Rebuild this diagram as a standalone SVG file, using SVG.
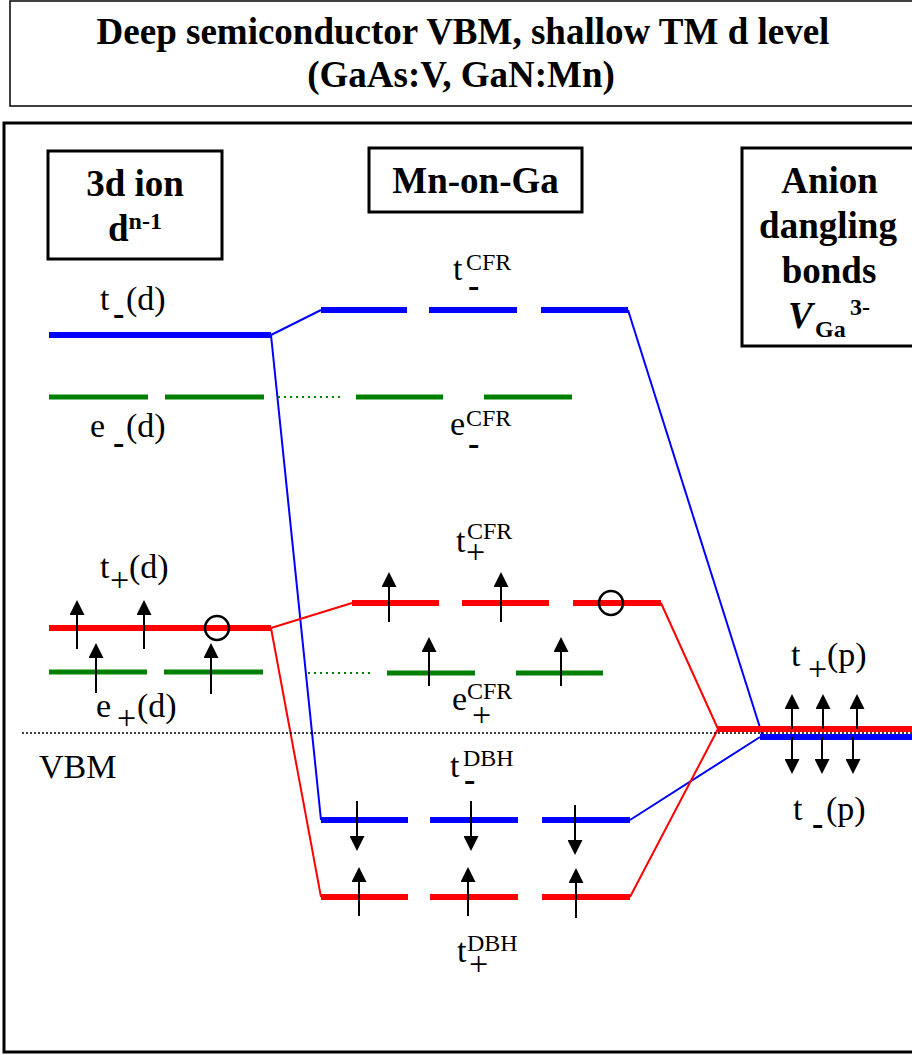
<svg xmlns="http://www.w3.org/2000/svg" width="912" height="1055" viewBox="0 0 912 1055">
<style>
text{font-family:'Liberation Serif','Tinos','Times New Roman','DejaVu Serif','Noto Serif',serif}
.bt{font-weight:bold;font-size:37px;fill:#000}
.lb{font-size:34px;fill:#000}
.sp{font-size:24px}
.dash{font-weight:bold}
.box{fill:none;stroke:#000;stroke-width:3}
.lvB{stroke:#0000FF;stroke-width:6;fill:none}
.lvR{stroke:#FF0000;stroke-width:6;fill:none}
.lvG{stroke:#008000;stroke-width:5;fill:none}
.cB{stroke:#0000FF;stroke-width:2;fill:none}
.cR{stroke:#FF0000;stroke-width:2;fill:none}
.gd{stroke:#008000;stroke-width:2;stroke-dasharray:2 4;fill:none}
.spin{stroke:#000;stroke-width:2;marker-end:url(#ah)}
.hole{fill:none;stroke:#000;stroke-width:2.5}
</style>
<defs>
<marker id="ah" viewBox="0 0 15 15" refX="11" refY="7.5" markerWidth="15" markerHeight="15" markerUnits="userSpaceOnUse" orient="auto">
<path d="M0,0 L15,7.5 L0,15 z" fill="#000"/>
</marker>
</defs>
<rect width="912" height="1055" fill="#fff"/>

<g id="title">
<rect x="10" y="1" width="910" height="105" fill="none" stroke="#000" stroke-width="1.5"/>
<text class="bt" font-family="Liberation Serif, serif" x="463" y="44" text-anchor="middle">Deep semiconductor VBM, shallow TM d level</text>
<text class="bt" font-family="Liberation Serif, serif" x="461" y="87" text-anchor="middle">(GaAs:V, GaN:Mn)</text>
</g>

<g id="frame">
<rect x="4" y="123" width="920" height="929" fill="none" stroke="#000" stroke-width="3"/>
</g>

<g id="hdr-3d-ion">
<rect class="box" x="48" y="151" width="174" height="108"/>
<text class="bt" x="135" y="196" text-anchor="middle">3d ion</text>
<text class="bt" x="108" y="241">d<tspan class="sp" y="229">n-1</tspan></text>
</g>

<g id="hdr-mn-on-ga">
<rect class="box" x="369" y="148" width="213" height="64"/>
<text class="bt" x="475.5" y="193" text-anchor="middle">Mn-on-Ga</text>
</g>

<g id="hdr-anion">
<rect class="box" x="742" y="148" width="200" height="198"/>
<text class="bt" x="829.5" y="193" text-anchor="middle">Anion</text>
<text class="bt" x="828" y="238" text-anchor="middle">dangling</text>
<text class="bt" x="829" y="283" text-anchor="middle">bonds</text>
<text class="bt" x="788" y="328"><tspan font-style="italic">V</tspan><tspan class="sp" x="815" y="337">Ga</tspan><tspan class="sp" x="850" y="315">3-</tspan></text>
</g>

<g id="connectors">
<line class="cB" x1="271" y1="335" x2="321" y2="310"/>
<line class="cB" x1="271" y1="335" x2="321" y2="820"/>
<line class="cB" x1="628" y1="310" x2="762" y2="734"/>
<line class="cB" x1="630" y1="820" x2="760" y2="737"/>
<line class="cR" x1="271" y1="628" x2="352" y2="603"/>
<line class="cR" x1="271" y1="628" x2="321" y2="897"/>
<line class="cR" x1="661" y1="603" x2="718" y2="729"/>
<line class="cR" x1="630" y1="897" x2="718" y2="729"/>
<line class="gd" x1="278" y1="397" x2="340" y2="397"/>
<line class="gd" x1="308" y1="673" x2="370" y2="673"/>
</g>

<g id="ion-t-minus">
<line class="lvB" x1="49" y1="335" x2="271" y2="335"/>
<text class="lb" x="100" y="310">t<tspan class="dash" x="113" y="325">-</tspan><tspan x="126" y="310">(d)</tspan></text>
</g>

<g id="ion-e-minus">
<line class="lvG" x1="49" y1="397" x2="148" y2="397"/>
<line class="lvG" x1="165" y1="397" x2="264" y2="397"/>
<text class="lb" x="90" y="437">e<tspan class="dash" x="113" y="454">-</tspan><tspan x="126" y="437">(d)</tspan></text>
</g>

<g id="ion-t-plus">
<line class="lvR" x1="49" y1="628" x2="271" y2="628"/>
<line class="spin" x1="77" y1="649" x2="77" y2="604"/>
<line class="spin" x1="144" y1="649" x2="144" y2="604"/>
<circle class="hole" cx="217" cy="628" r="12"/>
<text class="lb" x="100" y="578">t<tspan x="110" y="591">+</tspan><tspan x="129" y="578">(d)</tspan></text>
</g>

<g id="ion-e-plus">
<line class="lvG" x1="49" y1="672" x2="147" y2="672"/>
<line class="lvG" x1="164" y1="672" x2="263" y2="672"/>
<line class="spin" x1="96" y1="693" x2="96" y2="647"/>
<line class="spin" x1="211" y1="694" x2="211" y2="647"/>
<text class="lb" x="96" y="717">e<tspan x="117" y="729">+</tspan><tspan x="137" y="717">(d)</tspan></text>
</g>

<g id="cfr-t-minus">
<line class="lvB" x1="321" y1="310" x2="407" y2="310"/>
<line class="lvB" x1="429" y1="310" x2="517" y2="310"/>
<line class="lvB" x1="541" y1="310" x2="628" y2="310"/>
<text class="lb" x="453" y="280">t<tspan class="sp" x="466" y="270">CFR</tspan><tspan class="dash" x="468" y="297">-</tspan></text>
</g>

<g id="cfr-e-minus">
<line class="lvG" x1="356" y1="397" x2="443" y2="397"/>
<line class="lvG" x1="484" y1="397" x2="572" y2="397"/>
<text class="lb" x="450" y="435">e<tspan class="sp" x="466" y="426">CFR</tspan><tspan class="dash" x="468" y="455">-</tspan></text>
</g>

<g id="cfr-t-plus">
<line class="lvR" x1="352" y1="603" x2="439" y2="603"/>
<line class="lvR" x1="462" y1="603" x2="549" y2="603"/>
<line class="lvR" x1="573" y1="603" x2="661" y2="603"/>
<line class="spin" x1="389" y1="622" x2="389" y2="576"/>
<line class="spin" x1="501" y1="622" x2="501" y2="576"/>
<circle class="hole" cx="611" cy="603" r="12"/>
<text class="lb" x="456" y="552">t<tspan class="sp" x="467" y="539">CFR</tspan><tspan x="466" y="563">+</tspan></text>
</g>

<g id="cfr-e-plus">
<line class="lvG" x1="387" y1="673" x2="475" y2="673"/>
<line class="lvG" x1="516" y1="673" x2="603" y2="673"/>
<line class="spin" x1="429" y1="686" x2="429" y2="641"/>
<line class="spin" x1="561" y1="686" x2="561" y2="641"/>
<text class="lb" x="452" y="710">e<tspan class="sp" x="467" y="699">CFR</tspan><tspan x="472" y="726">+</tspan></text>
</g>

<g id="dbh-t-minus">
<line class="lvB" x1="321" y1="820" x2="408" y2="820"/>
<line class="lvB" x1="430" y1="820" x2="518" y2="820"/>
<line class="lvB" x1="542" y1="820" x2="630" y2="820"/>
<line class="spin" x1="357" y1="801" x2="357" y2="847"/>
<line class="spin" x1="471" y1="801" x2="471" y2="847"/>
<line class="spin" x1="575" y1="805" x2="575" y2="851"/>
<text class="lb" x="450" y="777">t<tspan class="sp" x="463" y="766">DBH</tspan><tspan class="dash" x="464" y="791">-</tspan></text>
</g>

<g id="dbh-t-plus">
<line class="lvR" x1="321" y1="897" x2="408" y2="897"/>
<line class="lvR" x1="430" y1="897" x2="518" y2="897"/>
<line class="lvR" x1="542" y1="897" x2="630" y2="897"/>
<line class="spin" x1="359" y1="916" x2="359" y2="871"/>
<line class="spin" x1="468" y1="916" x2="468" y2="871"/>
<line class="spin" x1="576" y1="918" x2="576" y2="872"/>
<text class="lb" x="457" y="962">t<tspan class="sp" x="467" y="951">DBH</tspan><tspan x="469" y="975">+</tspan></text>
</g>

<g id="anion-levels">
<line class="lvR" x1="718" y1="729" x2="912" y2="729"/>
<line class="lvB" x1="760" y1="737" x2="912" y2="737"/>
<line class="spin" x1="792" y1="729" x2="792" y2="698"/>
<line class="spin" x1="823" y1="729" x2="823" y2="698"/>
<line class="spin" x1="857" y1="729" x2="857" y2="698"/>
<line class="spin" x1="792" y1="737" x2="792" y2="770"/>
<line class="spin" x1="822" y1="737" x2="822" y2="770"/>
<line class="spin" x1="853" y1="737" x2="853" y2="770"/>
<text class="lb" x="791" y="666">t<tspan x="808" y="680">+</tspan><tspan x="827" y="666">(p)</tspan></text>
<text class="lb" x="793" y="820">t<tspan class="dash" x="812" y="835">-</tspan><tspan x="826" y="820">(p)</tspan></text>
</g>

<g id="vbm">
<line x1="22" y1="733" x2="912" y2="733" stroke="#000" stroke-width="1.5" stroke-dasharray="2 2"/>
<text class="lb" x="39" y="778" font-size="33">VBM</text>
</g>
</svg>
